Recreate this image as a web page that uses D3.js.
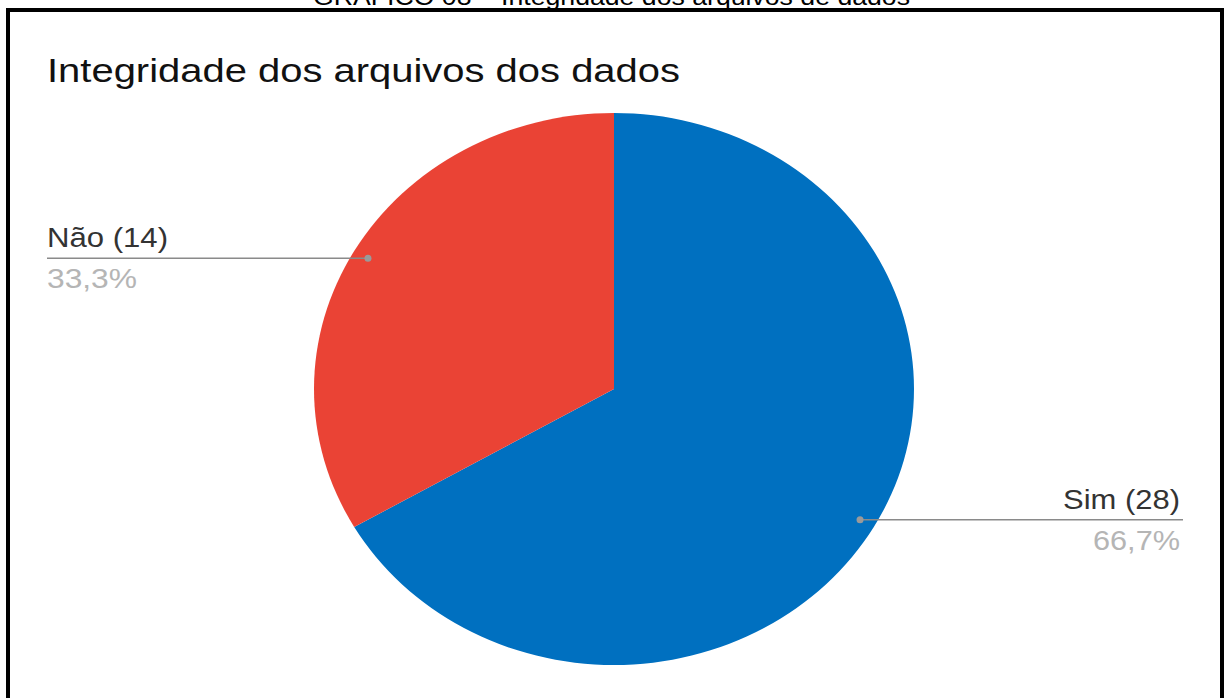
<!DOCTYPE html>
<html>
<head>
<meta charset="utf-8">
<script src="https://cdn.jsdelivr.net/npm/d3@7"></script>
<style>
  html, body { margin: 0; padding: 0; background: #fff; }
  svg { display: block; }
  text { font-family: "Liberation Sans", Arial, sans-serif; }
</style>
</head>
<body>
<svg id="chart" width="1224" height="698"></svg>
<script>
// ---- data ----
const categories = ["Sim", "Não"];
const values = [28, 14];
const percentLabels = ["66,7%", "33,3%"];
const colors = ["#0070C0", "#EA4335"];
const chartTitle = "Integridade dos arquivos dos dados";
const caption = "GRÁFICO 08 – Integridade dos arquivos de dados";

const W = 1224, H = 698;
const svg = d3.select("#chart");
svg.append("rect").attr("width", W).attr("height", H).attr("fill", "#fff");

// caption (cut off at top)
svg.append("text")
  .attr("x", 313).attr("y", 5)
  .attr("font-size", 24).attr("fill", "#000")
  .attr("textLength", 597).attr("lengthAdjust", "spacingAndGlyphs")
  .text(caption);

// frame
svg.append("rect")
  .attr("x", 8).attr("y", 10).attr("width", 1214).attr("height", 700)
  .attr("fill", "none").attr("stroke", "#000").attr("stroke-width", 4);

// title
svg.append("text")
  .attr("x", 47).attr("y", 82)
  .attr("font-size", 34).attr("fill", "#111")
  .attr("textLength", 633).attr("lengthAdjust", "spacingAndGlyphs")
  .text(chartTitle);

// pie (drawn as an ellipse: horizontal stretch)
const cx = 614, cy = 389, r = 276, sx = 300 / 276;
const pie = d3.pie().sort(null).value(d => d)(values);
const arc = d3.arc().innerRadius(0).outerRadius(r);
const g = svg.append("g").attr("transform", `translate(${cx},${cy}) scale(${sx},1)`);
g.selectAll("path").data(pie).join("path")
  .attr("d", arc)
  .attr("fill", (d, i) => colors[i]);

// labels with leader lines
const dotArc = d3.arc().innerRadius(r * 0.947).outerRadius(r * 0.947);
const labelCfg = [
  { side: "right", edge: 1183, textX: 1180, nameLen: 117, pctLen: 87 },
  { side: "left", edge: 47, textX: 47, nameLen: 121, pctLen: 90 }
];
pie.forEach((d, i) => {
  const [px, py] = dotArc.centroid(d);
  const x = cx + px * sx, y = cy + py;
  const cfg = labelCfg[i];
  svg.append("line")
    .attr("x1", x).attr("y1", y).attr("x2", cfg.edge).attr("y2", y)
    .attr("stroke", "#8a8a8a").attr("stroke-width", 1.6);
  svg.append("circle").attr("cx", x).attr("cy", y).attr("r", 3.5).attr("fill", "#9a9a9a");
  const anchor = cfg.side === "right" ? "end" : "start";
  svg.append("text")
    .attr("x", cfg.textX).attr("y", y - 11)
    .attr("text-anchor", anchor)
    .attr("font-size", 28).attr("fill", "#333")
    .attr("textLength", cfg.nameLen).attr("lengthAdjust", "spacingAndGlyphs")
    .text(`${categories[i]} (${values[i]})`);
  svg.append("text")
    .attr("x", cfg.textX).attr("y", y + 30)
    .attr("text-anchor", anchor)
    .attr("font-size", 28).attr("fill", "#b5b5b5")
    .attr("textLength", cfg.pctLen).attr("lengthAdjust", "spacingAndGlyphs")
    .text(percentLabels[i]);
});
</script>
</body>
</html>
